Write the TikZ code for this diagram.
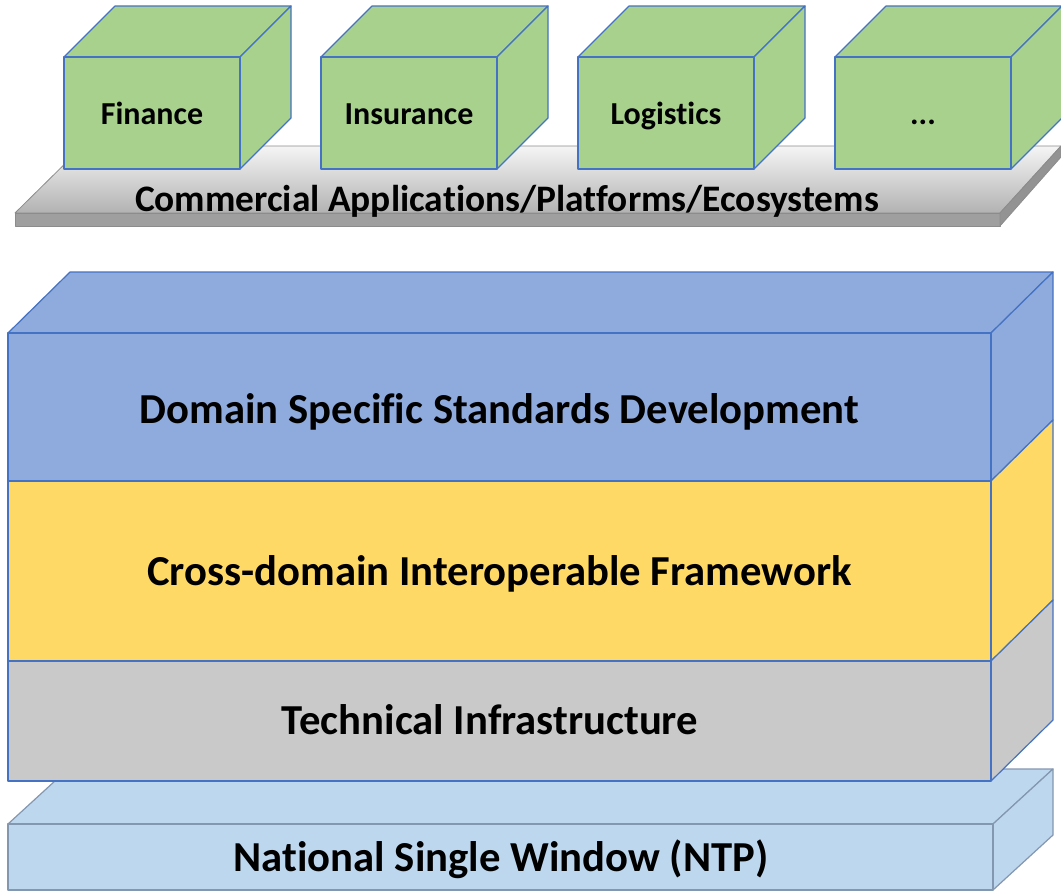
\documentclass[tikz,border=0pt]{standalone}
\usepackage{fontspec}
\setmainfont{Carlito}[Ligatures=NoCommon]
\usepackage{tikz}
\usetikzlibrary{calc,positioning}
\definecolor{edgeblue}{RGB}{68,114,196}
\definecolor{cubegreen}{RGB}{169,209,142}
\definecolor{domainblue}{RGB}{143,170,220}
\definecolor{frameyellow}{RGB}{255,217,102}
\definecolor{infragray}{RGB}{201,201,201}
\definecolor{nswblue}{RGB}{189,215,238}
\definecolor{nswedge}{RGB}{132,151,176}
\definecolor{platedge}{RGB}{140,140,140}
\newcommand{\appdots}{...}
\tikzstyle{every path}=[line join=round]
\tikzstyle{face}=[draw=edgeblue,line width=1.2pt]
\tikzstyle{cube face}=[face,fill=cubegreen]
\tikzstyle{slab face}=[draw=nswedge,line width=1.2pt,fill=nswblue]
\tikzstyle{plate face}=[draw=platedge,line width=0.8pt]
\tikzstyle{layer text}=[font=\fontsize{42.7}{50}\selectfont\bfseries,anchor=base,inner sep=0pt]
\tikzstyle{plate text}=[font=\fontsize{37.4}{44}\selectfont\bfseries,anchor=base,inner sep=0pt]
\tikzstyle{box text}=[font=\fontsize{32}{38}\selectfont\bfseries,anchor=base,inner sep=0pt]

\begin{document}
\begin{tikzpicture}[x=1pt,y=-1pt]
\def\cubew{176}
\def\cubeh{112}
\def\cubed{51}
\def\blockl{8}
\def\blockr{991}
\def\blockd{62}

    \useasboundingbox (0,0) rectangle (1061,892);

    % platform under the applications
    \shade[top color=gray!8, bottom color=gray!60] (15,213) -- (1000,213) -- (1061,146) -- (83,146) -- cycle;
    \draw[plate face] (15,213) -- (1000,213) -- (1061,146) -- (83,146) -- cycle;
    \path[plate face, fill=gray!75] (15,213) rectangle (1000,226);
    \path[plate face, fill=gray!85] (1000,213) -- (1061,146) -- (1061,157) -- (1000,226) -- cycle;

    % application cubes
    \foreach \i/\x/\lbl in {1/64/Finance, 2/321/Insurance, 3/578/Logistics, 4/835/\appdots} {
        \path[cube face] (\x,57) -- ({\x+\cubed},{57-\cubed}) -- ({\x+\cubew+\cubed},{57-\cubed}) -- ({\x+\cubew},57) -- cycle;
        \path[cube face] ({\x+\cubew},57) -- ({\x+\cubew+\cubed},{57-\cubed}) -- ({\x+\cubew+\cubed},{57+\cubeh-\cubed}) -- ({\x+\cubew},{57+\cubeh}) -- cycle;
        \path[cube face] (\x,57) rectangle ({\x+\cubew},{57+\cubeh});
        \node[box text] (app-\i) at ({\x+\cubew/2},124) {\lbl};
    }

    \node[plate text] (cape) at (507,211) {Commercial Applications/Platforms/Ecosystems};

    % national single window slab
    \path[slab face] (\blockl,824) -- (68,769) -- (1053,769) -- (993,824) -- cycle;
    \path[slab face] (993,824) -- (1053,769) -- (1053,835) -- (993,890) -- cycle;
    \path[slab face] (\blockl,824) rectangle (993,890);

    % layered block
    \path[face, fill=domainblue] (\blockl,333) -- ({\blockl+\blockd},272) -- ({\blockr+\blockd},272) -- (\blockr,333) -- cycle;
    \path[face, fill=domainblue] (\blockr,333) -- ({\blockr+\blockd},272) -- ({\blockr+\blockd},420) -- (\blockr,481) -- cycle;
    \path[face, fill=frameyellow] (\blockr,481) -- ({\blockr+\blockd},420) -- ({\blockr+\blockd},600) -- (\blockr,661) -- cycle;
    \path[face, fill=infragray] (\blockr,661) -- ({\blockr+\blockd},600) -- ({\blockr+\blockd},720) -- (\blockr,781) -- cycle;
    \path[face, fill=domainblue] (\blockl,333) rectangle (\blockr,481);
    \path[face, fill=frameyellow] (\blockl,481) rectangle (\blockr,661);
    \path[face, fill=infragray] (\blockl,661) rectangle (\blockr,781);

    \node[layer text] (dsd) at (499.5,423) {Domain Specific Standards Development};
    \node[layer text] (cdif) at (499.5,585) {Cross-domain Interoperable Framework};
    \node[layer text] (tinf) at (490,734) {Technical Infrastructure};
    \node[layer text] (nsw) at (501,871) {National Single Window (NTP)};
\end{tikzpicture}
\end{document}
